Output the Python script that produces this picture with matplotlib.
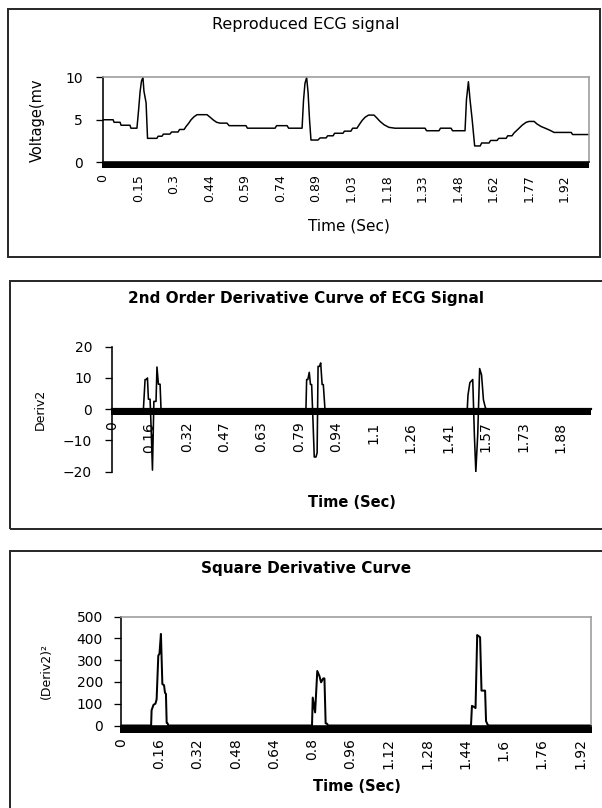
import numpy as np
import matplotlib
matplotlib.use("Agg")
import matplotlib.pyplot as plt
from matplotlib.patches import Rectangle

# ---------------- data ----------------
# Reproduced ECG signal (polyline vertices)
ecg_time = [0.000, 0.042, 0.046, 0.071, 0.075, 0.112, 0.116, 0.141, 0.148, 0.154,
            0.160, 0.166, 0.170, 0.179, 0.185, 0.224, 0.229, 0.245, 0.251, 0.278,
            0.285, 0.312, 0.318, 0.337, 0.345, 0.355, 0.366, 0.378, 0.391, 0.432,
            0.445, 0.457, 0.472, 0.486, 0.515, 0.524, 0.594, 0.600, 0.715, 0.721,
            0.765, 0.771, 0.827, 0.833, 0.839, 0.846, 0.852, 0.858, 0.864, 0.893,
            0.902, 0.927, 0.933, 0.956, 0.962, 0.997, 1.003, 1.030, 1.037, 1.055,
            1.064, 1.076, 1.089, 1.103, 1.126, 1.138, 1.151, 1.168, 1.188, 1.213,
            1.338, 1.344, 1.396, 1.402, 1.446, 1.452, 1.504, 1.510, 1.518, 1.525,
            1.533, 1.544, 1.567, 1.573, 1.604, 1.610, 1.637, 1.644, 1.675, 1.681,
            1.699, 1.708, 1.725, 1.741, 1.758, 1.770, 1.791, 1.803, 1.820, 1.837,
            1.857, 1.874, 1.945, 1.951, 2.019]
ecg_voltage = [5.0, 5.0, 4.7, 4.7, 4.35, 4.35, 4.0, 4.0, 6.2, 8.3,
               9.6, 10.0, 8.4, 7.0, 2.8, 2.8, 3.05, 3.05, 3.3, 3.3,
               3.55, 3.55, 3.85, 3.85, 4.2, 4.55, 5.0, 5.35, 5.6, 5.6,
               5.3, 5.0, 4.7, 4.6, 4.6, 4.3, 4.3, 4.0, 4.0, 4.3,
               4.3, 4.0, 4.0, 7.3, 9.3, 10.0, 8.2, 5.0, 2.6, 2.6,
               2.85, 2.85, 3.1, 3.1, 3.4, 3.4, 3.65, 3.65, 4.0, 4.0,
               4.4, 4.9, 5.3, 5.55, 5.55, 5.2, 4.8, 4.4, 4.1, 4.0,
               4.0, 3.7, 3.7, 4.0, 4.0, 3.7, 3.7, 7.4, 9.5, 7.3,
               5.2, 1.9, 1.9, 2.25, 2.25, 2.55, 2.55, 2.8, 2.8, 3.1,
               3.1, 3.45, 3.9, 4.35, 4.7, 4.8, 4.8, 4.5, 4.2, 4.0,
               3.75, 3.5, 3.5, 3.25, 3.25]
ecg_tick_labels = ["0", "0.15", "0.3", "0.44", "0.59", "0.74", "0.89", "1.03",
                   "1.18", "1.33", "1.48", "1.62", "1.77", "1.92"]
ecg_tick_step = 0.1475

# 2nd order derivative
d2_time = [0.0, 0.132, 0.139, 0.145, 0.149, 0.153, 0.160, 0.164, 0.170, 0.176,
           0.185, 0.189, 0.195, 0.202, 0.206,
           0.815, 0.818, 0.823, 0.829, 0.834, 0.839, 0.845, 0.850, 0.857, 0.862,
           0.866, 0.872, 0.877, 0.883, 0.888, 0.895,
           1.493, 1.496, 1.504, 1.516, 1.523, 1.529, 1.537, 1.545, 1.553, 1.561,
           1.569, 1.575, 2.013]
d2_value = [0, 0, 9.5, 9.5, 10, 3.2, 3.2, -5, -19.5, 2.5,
            2.5, 13.5, 8, 8, 0,
            0, 9.5, 9.5, 11.8, 7.9, 7.9, -4.5, -15.3, -15.3, -14,
            13.7, 13.7, 14.8, 7.9, 7.9, 0,
            0, 4.5, 8.5, 9.5, -8.5, -20, -8, 13, 11, 3,
            0.5, 0, 0]
d2_tick_labels = ["0", "0.16", "0.32", "0.47", "0.63", "0.79", "0.94", "1.1",
                  "1.26", "1.41", "1.57", "1.73", "1.88"]
d2_tick_step = 0.157

# squared derivative
sq_time = [0.0, 0.126, 0.128, 0.136, 0.144, 0.149, 0.156, 0.161, 0.167, 0.173,
           0.180, 0.184, 0.188, 0.191, 0.195, 0.198,
           0.799, 0.802, 0.812, 0.821, 0.830, 0.837, 0.846, 0.851, 0.856, 0.862,
           0.866,
           1.464, 1.468, 1.477, 1.483, 1.490, 1.496, 1.502, 1.508, 1.523, 1.527,
           1.533, 1.538, 1.966]
sq_value = [0, 0, 70, 95, 100, 120, 320, 330, 420, 190,
            185, 150, 145, 12, 10, 0,
            0, 128, 60, 250, 227, 198, 216, 216, 10, 8,
            0,
            0, 90, 85, 80, 415, 410, 405, 160, 160, 20,
            5, 0, 0]
sq_tick_labels = ["0", "0.16", "0.32", "0.48", "0.64", "0.8", "0.96", "1.12",
                  "1.28", "1.44", "1.6", "1.76", "1.92"]
sq_tick_step = 0.16

# ---------------- figure ----------------
W, H, DPI = 602, 808, 100
PT = 72.0 / DPI  # points per pixel
plt.rcParams['font.family'] = ['DejaVu Sans']

fig = plt.figure(figsize=(W / DPI, H / DPI), dpi=DPI)
fig.patch.set_facecolor('white')


def add_px_axes(x0, y0, x1, y1):
    return fig.add_axes([x0 / W, 1 - y1 / H, (x1 - x0) / W, (y1 - y0) / H])


def frame(x0, y0, x1, y1):
    fig.add_artist(Rectangle((x0 / W, 1 - y1 / H), (x1 - x0) / W, (y1 - y0) / H,
                             transform=fig.transFigure, fill=False,
                             edgecolor='#2b2b2b', linewidth=2 * PT))


def to_ax(box, px=None, py=None):
    x0, y0, x1, y1 = box
    fx = None if px is None else (px - x0) / (x1 - x0)
    fy = None if py is None else (y1 - py) / (y1 - y0)
    return fx, fy


def style_axis(ax, tmax, step, labels, tick_fs, ylab_pad, xlab_pad,
               band_len, boxed=True, spine_at_zero=False):
    if spine_at_zero:
        ax.spines['bottom'].set_position(('data', 0))
    ax.set_xlim(0, tmax)
    ax.set_xticks(np.arange(len(labels)) * step)
    ax.set_xticklabels(labels, rotation=90, fontsize=tick_fs)
    # one tick per sample forms the dense band along the category axis
    ax.set_xticks(np.arange(0, tmax, 0.003), minor=True)
    ax.tick_params(axis='x', which='both', direction='out', length=band_len * PT,
                   width=2.0 * PT, color='black', pad=xlab_pad * PT)
    ax.tick_params(axis='y', which='major', direction='out', length=7 * PT,
                   width=1.3 * PT, labelsize=10, pad=ylab_pad * PT)
    ax.spines['left'].set_linewidth(1.6 * PT)
    ax.spines['bottom'].set_linewidth((2.2 if spine_at_zero else 1.6) * PT)
    if boxed:
        for s in ('top', 'right'):
            ax.spines[s].set_color('#9a9a9a')
            ax.spines[s].set_linewidth(1.6 * PT)
    else:
        ax.spines['top'].set_visible(False)
        ax.spines['right'].set_visible(False)
    ax.set_facecolor('white')


TITLE_X = 306  # titles are centred on the chart frame

# ---- panel 1: reproduced ECG ----
frame(8, 9, 600, 257)
b1 = (103, 77.5, 589, 162)
ax1 = add_px_axes(*b1)
ax1.plot(ecg_time, ecg_voltage, color='black', linewidth=1.5 * PT)
ax1.set_ylim(0, 10)
ax1.set_yticks([0, 5, 10])
style_axis(ax1, 2.019, ecg_tick_step, ecg_tick_labels, 9, 13, 7, 5.5)
ax1.set_title("Reproduced ECG signal", fontsize=11.5, va='center', pad=0,
              x=to_ax(b1, px=TITLE_X)[0], y=to_ax(b1, py=25)[1])
ax1.set_xlabel("Time (Sec)", fontsize=11, va='top')
ax1.xaxis.set_label_coords(to_ax(b1, px=349)[0], to_ax(b1, py=218)[1])
ax1.set_ylabel("Voltage(mv", fontsize=10.5, va='center')
ax1.yaxis.set_label_coords(to_ax(b1, px=37)[0], 0.5)

# ---- panel 2: 2nd order derivative ----
frame(10, 281, 612, 529)
b2 = (112, 346.7, 591, 471.7)
ax2 = add_px_axes(*b2)
ax2.plot(d2_time, d2_value, color='black', linewidth=1.6 * PT)
ax2.set_ylim(-20, 20)
ax2.set_yticks([-20, -10, 0, 10, 20])
style_axis(ax2, 2.013, d2_tick_step, d2_tick_labels, 10, 13, 7, 5.5,
           boxed=False, spine_at_zero=True)
ax2.set_title("2nd Order Derivative Curve of ECG Signal", fontsize=11,
              fontweight='bold', va='center', pad=0,
              x=to_ax(b2, px=TITLE_X)[0], y=to_ax(b2, py=299)[1])
ax2.set_xlabel("Time (Sec)", fontsize=10.5, fontweight='bold', va='top')
ax2.xaxis.set_label_coords(to_ax(b2, px=352)[0], to_ax(b2, py=495)[1])
ax2.set_ylabel("Deriv2", fontsize=9, va='center')
ax2.yaxis.set_label_coords(to_ax(b2, px=40)[0], 0.5)

# ---- panel 3: squared derivative ----
frame(10, 551, 612, 820)
b3 = (121, 616.5, 591, 725.5)
ax3 = add_px_axes(*b3)
ax3.plot(sq_time, sq_value, color='black', linewidth=2.0 * PT)
ax3.set_ylim(0, 500)
ax3.set_yticks([0, 100, 200, 300, 400, 500])
style_axis(ax3, 1.966, sq_tick_step, sq_tick_labels, 10, 11, 6, 7)
ax3.set_title("Square Derivative Curve", fontsize=11, fontweight='bold',
              va='center', pad=0,
              x=to_ax(b3, px=TITLE_X)[0], y=to_ax(b3, py=568)[1])
ax3.set_xlabel("Time (Sec)", fontsize=10.5, fontweight='bold', va='top')
ax3.xaxis.set_label_coords(to_ax(b3, px=357)[0], to_ax(b3, py=779)[1])
ax3.set_ylabel("(Deriv2)²", fontsize=9, va='center')
ax3.yaxis.set_label_coords(to_ax(b3, px=46)[0], 0.5)

fig.savefig("out.png", dpi=DPI, facecolor='white')
